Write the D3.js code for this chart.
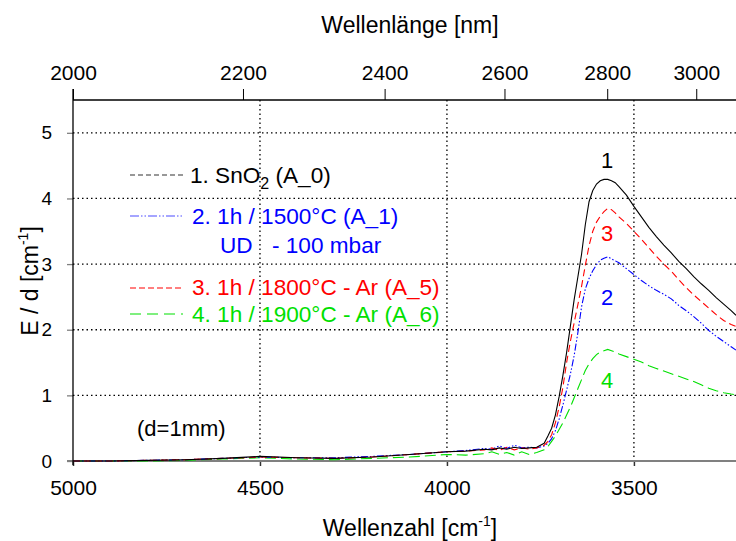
<!DOCTYPE html>
<html><head><meta charset="utf-8">
<script src="https://cdn.jsdelivr.net/npm/d3@7"></script>
<style>
html,body{margin:0;padding:0;background:#fff;}
svg{display:block;font-family:"Liberation Sans",Arial,sans-serif;}
</style></head>
<body><svg id="c" width="736" height="541"></svg>
<script>
const wavenumbers = [5000,4900,4800,4700,4600,4500,4400,4300,4200,4100,4000,3950,3900,3880,3860,3840,3820,3800,3780,3760,3740,3730,3720,3710,3700,3690,3680,3670,3660,3650,3640,3630,3620,3610,3600,3590,3580,3570,3560,3550,3540,3520,3500,3480,3460,3440,3420,3400,3380,3360,3340,3320,3300,3280,3260,3240,3227];
const s1_SnO2 = [0,0,0.01,0.02,0.04,0.07,0.05,0.04,0.06,0.10,0.14,0.15,0.18,0.17,0.20,0.18,0.21,0.19,0.20,0.21,0.27,0.38,0.50,0.70,0.98,1.30,1.65,2.05,2.45,2.80,3.15,3.60,3.95,4.12,4.22,4.27,4.29,4.29,4.27,4.24,4.18,4.05,3.88,3.72,3.56,3.42,3.29,3.17,3.04,2.93,2.81,2.70,2.60,2.49,2.39,2.29,2.22];
const s2_1500 = [0,0,0.01,0.02,0.04,0.06,0.05,0.05,0.07,0.10,0.14,0.16,0.19,0.18,0.23,0.19,0.24,0.20,0.21,0.20,0.23,0.27,0.34,0.46,0.64,0.85,1.08,1.32,1.60,1.95,2.35,2.62,2.78,2.90,2.99,3.06,3.09,3.11,3.08,3.05,3.02,2.93,2.84,2.75,2.67,2.60,2.54,2.47,2.37,2.29,2.20,2.10,1.99,1.90,1.82,1.74,1.69];
const s3_1800 = [0,0,0.01,0.02,0.04,0.06,0.05,0.04,0.06,0.10,0.14,0.15,0.17,0.20,0.16,0.21,0.17,0.20,0.18,0.20,0.24,0.30,0.40,0.58,0.82,1.12,1.50,1.82,2.10,2.38,2.66,2.98,3.28,3.50,3.64,3.73,3.80,3.85,3.83,3.78,3.72,3.62,3.50,3.38,3.25,3.12,3.00,2.89,2.76,2.64,2.53,2.43,2.33,2.23,2.14,2.08,2.05];
const s4_1900 = [0,0,0,0.01,0.03,0.05,0.03,0.02,0.04,0.06,0.10,0.09,0.11,0.14,0.10,0.13,0.09,0.14,0.10,0.13,0.17,0.22,0.30,0.38,0.48,0.58,0.70,0.82,0.96,1.10,1.24,1.38,1.48,1.56,1.62,1.66,1.68,1.70,1.68,1.66,1.63,1.59,1.55,1.51,1.45,1.41,1.37,1.33,1.29,1.25,1.21,1.16,1.11,1.07,1.04,1.02,1.01];
const bottomTicks = [5000,4500,4000,3500];
const topTicksNm = [2000,2200,2400,2600,2800,3000];
const yTicks = [0,1,2,3,4,5];
const seriesNames = ["1. SnO\u2082 (A_0)","2. 1h / 1500°C (A_1)","3. 1h / 1800°C - Ar (A_5)","4. 1h / 1900°C - Ar (A_6)"];
const seriesColors = ["#000000","#0000ff","#ff0000","#00e000"];
const curveLabels = ["1","2","3","4"];

const L=73,R=736,T=100,B=461;
const FF="Liberation Sans, Arial, sans-serif";
const svg=d3.select("#c");
const x=d3.scaleLinear().domain([5000,3227]).range([L,R]);
const y=d3.scaleLinear().domain([0,5.5]).range([B,T]);

// grid
const g=svg.append("g");
g.selectAll("line.hg").data(yTicks.filter(d=>d>0)).join("line")
 .attr("x1",L).attr("x2",R).attr("y1",d=>y(d)).attr("y2",d=>y(d))
 .attr("stroke","#000").attr("stroke-width",1.3).attr("stroke-dasharray","1.5,3");
g.selectAll("line.vg").data(bottomTicks.filter(d=>d<5000)).join("line")
 .attr("x1",d=>x(d)).attr("x2",d=>x(d)).attr("y1",T).attr("y2",B)
 .attr("stroke","#000").attr("stroke-width",1.3).attr("stroke-dasharray","1.5,3");

// bottom axis
const xb=d3.axisBottom(x).tickValues(bottomTicks).tickSize(5).tickFormat(d3.format("d"));
const gb=svg.append("g").attr("transform",`translate(0,${B})`).call(xb);
gb.select(".domain").remove();
gb.selectAll(".tick line").attr("stroke","#333").attr("stroke-width",1.5);
gb.selectAll(".tick text").attr("font-size",21).attr("y",15).attr("dy","0.9em").attr("fill","#000").attr("font-family",FF);
svg.append("line").attr("x1",L-6).attr("x2",R).attr("y1",B).attr("y2",B).attr("stroke","#808080").attr("stroke-width",2);

// curves
svg.append("clipPath").attr("id","cp").append("rect").attr("x",L).attr("y",T).attr("width",R-L).attr("height",B-T+2);
const line=d3.line().x((d,i)=>x(wavenumbers[i])).y(d=>y(d));
const series=[
 {v:s4_1900,c:seriesColors[3],dash:"11,5"},
 {v:s2_1500,c:seriesColors[1],dash:"7,2,1.5,2,1.5,2"},
 {v:s3_1800,c:seriesColors[2],dash:"7,4"},
 {v:s1_SnO2,c:seriesColors[0],dash:null}
];
const cg=svg.append("g").attr("clip-path","url(#cp)");
series.forEach(s=>{
 cg.append("path").datum(s.v).attr("d",line).attr("fill","none")
  .attr("stroke",s.c).attr("stroke-width",1.1).attr("stroke-dasharray",s.dash);
});

// top axis
const xt=d3.axisTop(x).tickValues(topTicksNm.map(n=>1e7/n)).tickSize(11).tickFormat((d,i)=>topTicksNm[i]);
const gt=svg.append("g").attr("transform",`translate(0,${T})`).call(xt);
gt.select(".domain").remove();
gt.selectAll(".tick line").attr("stroke","#000");
gt.selectAll(".tick text").attr("font-size",21).attr("y",-20).attr("dy","0").attr("fill","#000").attr("font-family",FF);
svg.append("line").attr("x1",L).attr("x2",R).attr("y1",T).attr("y2",T).attr("stroke","#000").attr("stroke-width",1.3);

// left axis
const yl=d3.axisLeft(y).tickValues(yTicks).tickSize(6).tickFormat(d3.format("d"));
const gl=svg.append("g").attr("transform",`translate(${L},0)`).call(yl);
gl.select(".domain").remove();
gl.selectAll(".tick line").attr("stroke","#808080").attr("stroke-width",1.3);
gl.selectAll(".tick text").attr("font-size",19).attr("x",-21).attr("fill","#000").attr("font-family",FF);
svg.append("line").attr("x1",L).attr("x2",L).attr("y1",T-11).attr("y2",B+4).attr("stroke","#000").attr("stroke-width",1.3);

// titles
svg.append("text").attr("x",410).attr("y",33).attr("text-anchor","middle").attr("font-size",23).text("Wellenlänge [nm]");
const bt=svg.append("text").attr("x",410).attr("y",536).attr("text-anchor","middle").attr("font-size",23);
bt.append("tspan").text("Wellenzahl [cm");
bt.append("tspan").attr("font-size",14).attr("dy",-10).text("-1");
bt.append("tspan").attr("dy",10).text("]");
const yt=svg.append("text").attr("transform","translate(38,281) rotate(-90)").attr("text-anchor","middle").attr("font-size",23);
yt.append("tspan").text("E / d [cm");
yt.append("tspan").attr("font-size",14).attr("dy",-10).text("-1");
yt.append("tspan").attr("dy",10).text("]");

// legend
const legRows=[
 {y:175,c:"#333",dash:"5,3"},
 {y:216,c:"#4d4dff",dash:"9,2,1.5,2,1.5,2"},
 {y:288,c:"#ff0000",dash:"6,3"},
 {y:314,c:"#00e000",dash:"11,6"}
];
legRows.forEach(r=>{
 svg.append("line").attr("x1",130).attr("x2",183).attr("y1",r.y).attr("y2",r.y)
  .attr("stroke",r.c).attr("stroke-width",1.2).attr("stroke-dasharray",r.dash);
});
const LF=22.6;
const t1=svg.append("text").attr("x",190).attr("y",183).attr("font-size",LF).attr("fill",seriesColors[0]);
t1.append("tspan").text("1. SnO");
t1.append("tspan").attr("font-size",16).attr("dy",6).text("2");
t1.append("tspan").attr("dy",-6).text(" (A_0)");
svg.append("text").attr("x",192).attr("y",224).attr("font-size",LF).attr("fill",seriesColors[1]).text(seriesNames[1]);
svg.append("text").attr("x",220).attr("y",253).attr("font-size",LF).attr("fill",seriesColors[1]).text("UD");
svg.append("text").attr("x",272).attr("y",253).attr("font-size",LF).attr("fill",seriesColors[1]).text("- 100 mbar");
svg.append("text").attr("x",192).attr("y",295).attr("font-size",LF).attr("fill",seriesColors[2]).text(seriesNames[2]);
svg.append("text").attr("x",192).attr("y",322).attr("font-size",LF).attr("fill",seriesColors[3]).text(seriesNames[3]);
svg.append("text").attr("x",137).attr("y",436).attr("font-size",22).text("(d=1mm)");

// curve labels
const labY=[168,305,241,388];
curveLabels.forEach((t,i)=>{
 svg.append("text").attr("x",607).attr("y",labY[i]).attr("text-anchor","middle").attr("font-size",22).attr("fill",seriesColors[i]).text(t);
});
</script></body></html>
